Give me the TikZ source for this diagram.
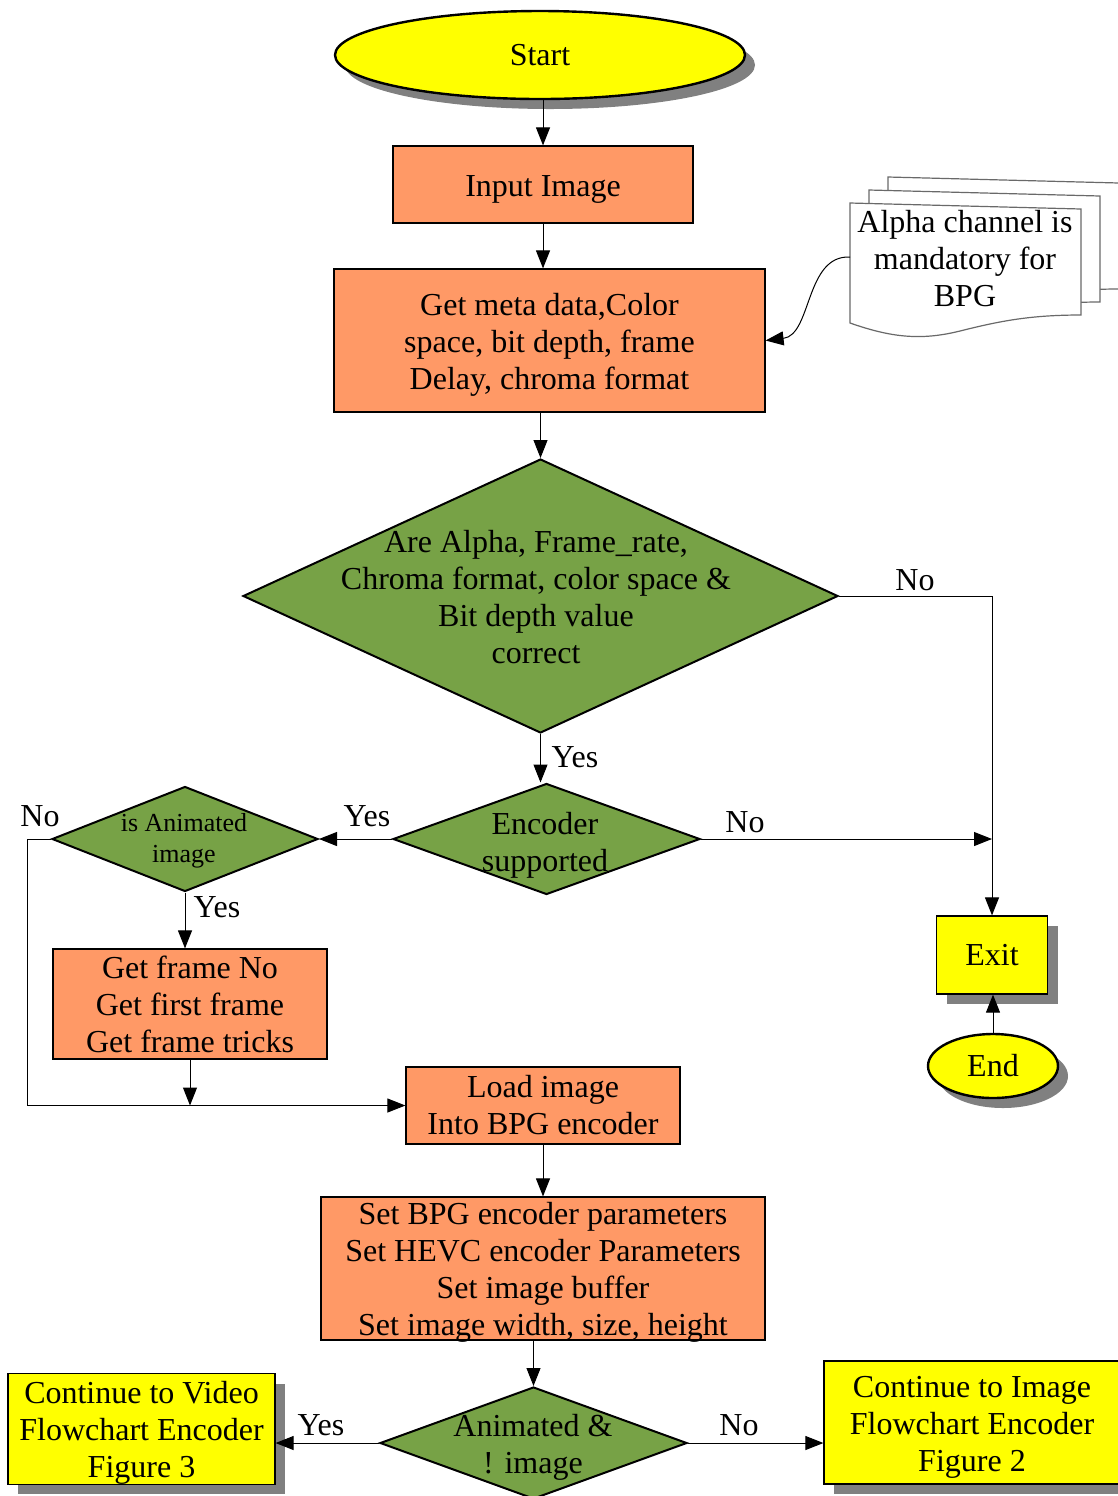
\documentclass[tikz,border=0pt]{standalone}
\usepackage{fontspec}
\setmainfont{Liberation Serif}
\usetikzlibrary{shapes.geometric, arrows.meta, shadows}
\definecolor{boxorange}{RGB}{255,153,102}
\definecolor{decgreen}{RGB}{119,162,70}
\definecolor{termyellow}{RGB}{255,255,0}
\definecolor{shadowgray}{RGB}{128,128,128}
\definecolor{notegray}{RGB}{105,105,105}
% taller first line, so the block of lines sits a little lower in its box
\newcommand\boxlift{\rule{0pt}{15pt}}

\begin{document}
\begin{tikzpicture}[x=0.5pt, y=-0.5pt,
  every node/.style={font=\fontsize{16}{18.5}\selectfont},
  solidshadow/.style={general shadow={fill=shadowgray, shadow xshift=5pt, shadow yshift=-5pt}},
  procbox/.style={draw, line width=0.6pt, fill=boxorange, inner sep=0pt, align=center},
  termbox/.style={draw, line width=0.6pt, fill=termyellow, inner sep=0pt, align=center, solidshadow},
  terminal/.style={ellipse, draw, line width=1.2pt, fill=termyellow, inner sep=0pt, solidshadow},
  decision/.style={diamond, draw, line width=1pt, fill=decgreen, inner sep=0pt},
  dtext/.style={align=center, inner sep=0pt},
  flow/.style={-{Triangle[length=9pt,width=7pt]}, line width=0.5pt},
  plain/.style={line width=0.5pt},
  lbl/.style={inner sep=0pt},
  page/.pic={\draw[notegray, fill=white, line width=0.6pt]
      (0,0) -- (231,6) -- (231,112)
      .. controls (180,112) and (150,118) .. (110,128)
      .. controls (70,138) and (40,134) .. (0,120) -- cycle;}
]
\useasboundingbox (0,0) rectangle (1118,1496);

% terminals
\node[terminal, minimum width=205pt, minimum height=44pt] (start) at (540,55) {Start};
\node[terminal, minimum width=65pt, minimum height=32pt] (end) at (993,1066) {End};
\node[termbox, minimum width=55.5pt, minimum height=39pt] (exit) at (992,955) {Exit};
\node[termbox, minimum width=133.5pt, minimum height=55pt] (video) at (141.5,1429)
  {\boxlift Continue to Video\\Flowchart Encoder\\Figure 3};
\node[termbox, minimum width=148pt, minimum height=61.5pt] (img) at (972,1422.5)
  {\boxlift Continue to Image\\Flowchart Encoder\\Figure 2};

% process boxes
\node[procbox, minimum width=150pt, minimum height=38.5pt] (input) at (543,184.5) {\boxlift Input Image};
\node[procbox, minimum width=215.5pt, minimum height=71.5pt] (meta) at (549.5,340.5)
  {\boxlift Get meta data,Color\\space, bit depth, frame\\Delay, chroma format};
\node[procbox, minimum width=137pt, minimum height=55pt] (gf) at (190,1004)
  {Get frame No\\Get first frame\\Get frame tricks};
\node[procbox, minimum width=137pt, minimum height=38.5pt] (load) at (543,1105.5)
  {Load image\\Into BPG encoder};
\node[procbox, minimum width=222pt, minimum height=71.5pt] (bpg) at (543,1268.5)
  {Set BPG encoder parameters\\Set HEVC encoder Parameters\\Set image buffer\\\smash{Set image width, size, height}};

% decisions
\node[decision, minimum width=297.5pt, minimum height=137pt] (d1) at (540.5,596) {};
\node[dtext] (d1txt) at (536,597)
  {Are Alpha, Frame\_rate,\\Chroma format, color space \&\\Bit depth value\\correct};
\node[decision, minimum width=153.5pt, minimum height=55.5pt] (d2) at (546.5,839) {};
\node[dtext] (d2txt) at (545,845) {Encoder\\supported};
\node[decision, minimum width=133pt, minimum height=52.5pt] (d3) at (185,839) {};
\node[dtext, font=\fontsize{13}{15.5}\selectfont] (d3txt) at (184,841) {is Animated\\image};
\node[decision, minimum width=153.5pt, minimum height=56pt] (d4) at (533.5,1443) {};
\node[dtext] (d4txt) at (533,1447) {Animated \&\\! image};

% annotation note (stacked pages)
\pic at (888,177) {page};
\pic at (869,190) {page};
\pic at (850,203) {page};
\node[align=center, inner sep=0pt] (note) at (965,259) {Alpha channel is\\mandatory for\\BPG};
\coordinate (noteedge) at (850,257);
\coordinate (leftrail) at (27,839);

% connectors
\draw[flow] (start.south -| input.north) -- (input.north);
\draw[flow] (input.south) -- (input.south |- meta.north);
\draw[flow] (noteedge) .. controls (805,255) and (812,335) .. (meta.east);
\draw[flow] (meta.south -| d1.south) -- (d1.north);
\draw[flow] (d1.east) -| (exit.north);
\draw[flow] (d1.south) -- (d1.south |- d2.north);
\draw[flow] (d2.east) -- (d2.east -| exit.north);
\draw[flow] (d2.west) -- (d3.east);
\draw[plain] (d3.west) -- (leftrail);
\draw[flow] (leftrail) |- (load.west);
\draw[flow] (d3.south) -- (d3.south |- gf.north);
\draw[flow] (gf.south) -- (gf.south |- load.west);
\draw[flow] (load.south) -- (bpg.north);
\draw[flow] (bpg.south -| d4.north) -- (d4.north);
\draw[flow] (d4.west) -- (d4.west -| video.east);
\draw[flow] (d4.east) -- (d4.east -| img.west);
\draw[flow] (end.north) -- (end.north |- exit.south);

% branch labels
\node[lbl] (lno1) at (915,580) {No};
\node[lbl] (lyes1) at (575,757) {Yes};
\node[lbl] (lno2) at (745,822) {No};
\node[lbl] (lyes2) at (367,816) {Yes};
\node[lbl] (lno3) at (40,816) {No};
\node[lbl] (lyes3) at (217,907) {Yes};
\node[lbl] (lyes4) at (321,1425) {Yes};
\node[lbl] (lno4) at (739,1425) {No};
\end{tikzpicture}
\end{document}
